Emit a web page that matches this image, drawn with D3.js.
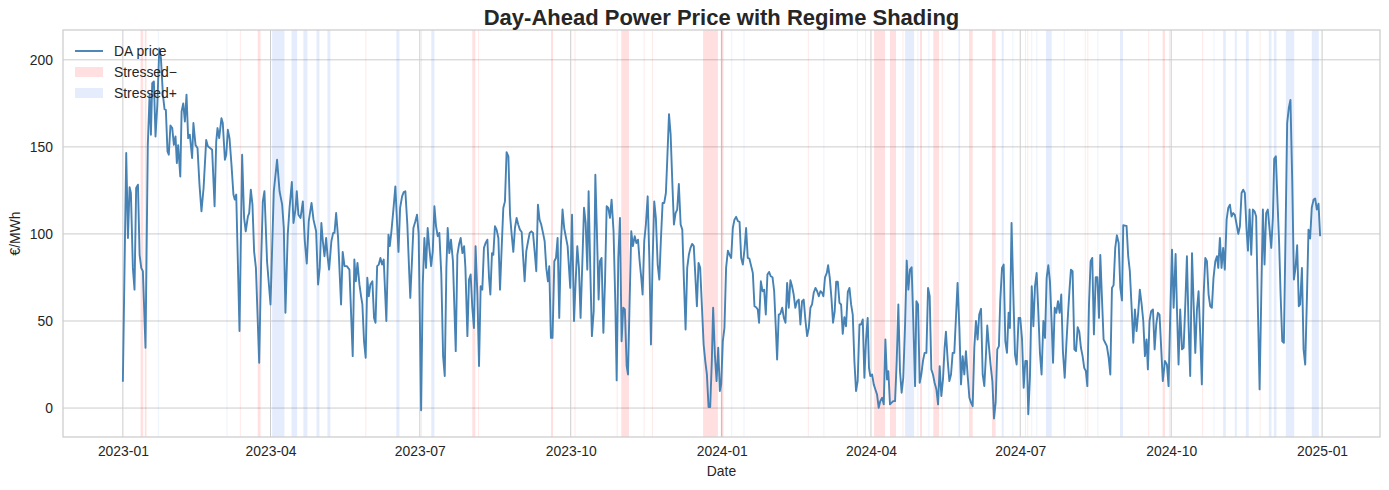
<!DOCTYPE html>
<html>
<head>
<meta charset="utf-8">
<script src="https://cdn.jsdelivr.net/npm/d3@7"></script>
<style>
  body { margin: 0; background: #fff; }
  svg { font-family: "Liberation Sans", Arial, sans-serif; }
</style>
</head>
<body>
<div id="chart"></div>
<script>
// day offsets count from 2023-01-01
const startDate = Date.UTC(2023, 0, 1);

// [day, €/MWh]
const priceSeries = [
  [0,15.1],[2.05,146.5],[3.1,97.7],[4.1,126.8],[4.9,123.5],[6.1,80.5],[7.1,68],[8.1,126.4],[9.2,128.3],[10.2,88],[11.2,80.5],[12.2,78.6],[13.8,34.6],[15.2,151],[16.3,180],[17.1,157],[17.9,186.6],[18.9,187.6],[19.9,156],[21,174],[22.2,206.5],[23.2,201],[24.4,180],[25.4,171.7],[26.2,171.3],[27.2,147.4],[28,145.5],[29,162.3],[30.1,160.8],[31.1,151.2],[32.1,156],[32.9,140.7],[33.7,151],[35,133],[35.8,170.4],[36.8,175],[37.8,164.6],[38.8,180],[39.8,155],[40.8,157],[42.2,143.6],[43,163.7],[44.3,151],[45.5,149.3],[46.7,128.3],[47.9,113],[49.2,126.4],[50.8,154],[51.8,150.3],[54.4,148.4],[55.9,115.9],[56.9,153],[57.7,160.8],[58.7,155],[60.1,166.5],[60.9,163.7],[62.2,142.6],[63,145.5],[64,159.8],[65,155],[66.2,139.8],[67.4,122.6],[68.2,119.7],[69.1,122.6],[71.1,44.2],[72.7,145.5],[73.9,109.2],[74.9,101.5],[76.2,110],[77,112],[78,125.4],[79,116.8],[80,90],[81.1,80.5],[83.1,26],[84.3,84.3],[85.3,118.7],[86.3,124.5],
  [87.9,84],[90,59.5],[92,124.5],[94,142.6],[95.5,124.5],[97.1,116.8],[98.1,103.4],[99.1,54.7],[100.5,99.6],[101.6,115],[103,129.8],[104,106.3],[105.2,114],[106,124.5],[107,111],[108.3,109.2],[109.7,118.7],[110.9,95.8],[112.1,83],[113.3,107.3],[115,117.8],[116.2,108.2],[117.8,101.5],[119,71],[120,80.5],[121,106.3],[121.9,95.8],[122.9,87.2],[123.9,97.7],[124.7,88],[125.7,79.5],[127.1,95.8],[128.2,100.6],[129,100.6],[130,112],[131.2,97.7],[132,80.5],[133,59.5],[134,89.7],[135.1,81.5],[136.5,81.5],[138.1,79.5],[140.1,29.8],[141.1,85.3],[142,72.8],[143,83.4],[144.2,71],[145.2,64.2],[146,59.5],[147,38.4],[148,28.9],[149,74.8],[149.9,64.2],[150.9,71],[152.1,72.8],[153.1,51.8],[154,49],[155,81.5],[156,82.4],[157,86.2],[158,82.4],[159,85.3],[160.6,50],[161.9,99.6],[162.7,93],[163.7,101.5],[164.9,114],[166.1,127.3],[167.1,107.3],[168,89.7],[169,115],[170.2,121.6],[171.2,124],[172.2,124.5],[173.4,105.4],[174.6,76.7],[175.2,63.3],[176.3,86.2],[177.1,103.4],[178.3,107.3],[179.3,111],[180.3,100],
  [181.8,-1.3],[182.8,71],[183.8,97.7],[184.8,80.5],[185.8,103.4],[186.8,92],[187.9,81.5],[188.9,90],[189.9,115.9],[190.9,104.4],[191.9,98.7],[192.9,100.6],[194.1,76.7],[195.2,29.8],[196.2,18.4],[197.2,80.5],[198,103.4],[199,89],[200,96.7],[201.2,84.3],[202.9,32.7],[203.9,88],[204.9,93.9],[205.9,97.7],[207,89],[208,93],[208.8,80.5],[210,41.3],[211,73.8],[212,76.7],[213,57.6],[214,46],[215,93],[216.1,65.2],[217.1,24.1],[218.1,70],[219.1,68],[220.1,92],[221.1,94.8],[222.2,96.7],[223.2,74.8],[224,65.2],[225,89],[225.8,88],[226.8,104.4],[227.8,102.5],[228.9,97.7],[229.9,68],[230.9,92],[231.9,114.9],[232.9,118.7],[233.9,147],[235,144.6],[236,111],[237,99.6],[238,89.7],[239,103.4],[240,109.2],[241,105.4],[242,102.5],[243.1,101.1],[243.9,88],[244.9,72.8],[245.9,90],[247,95.8],[248,100.6],[249,101.5],[250,100.6],[251,90],[252,78.6],[253,116.8],[254,108.2],[255,105.4],[256.1,100.6],[257.1,95.8],[258.1,80.5],[259.1,72.8],[259.9,81.5],[260.9,40.3],[261.9,40.3],[263,84.3],[264,86.2],[265,97.7],[266,51.8],[267,93.9],[268,114],[269,103.4],
  [271.1,93],[272.7,69],[273.8,111],[275,50],[276,72.8],[277,93],[278,80.5],[279,51.8],[280.1,84.3],[281.1,115],[282.1,106.3],[283.1,79.5],[283.9,124.5],[284.9,80.5],[285.9,41.3],[287,55.6],[288,134],[289,99.6],[290,62.3],[290.8,84.3],[291.8,86.2],[292.9,43.2],[293.9,72.8],[294.9,115.9],[295.9,115],[296.9,109.2],[297.9,119.7],[299.1,101.5],[300.2,59.5],[301,15.9],[302,86.2],[303,109.2],[304,38.4],[305,57.6],[306,56.6],[307.1,24.1],[307.9,19.3],[308.9,61.4],[309.9,101.5],[310.9,93],[312,98.7],[313,94.8],[314,96.7],[315,84.3],[316,74.8],[316.8,65.2],[317.8,95.8],[318.8,105.4],[319.9,121.6],[320.9,86.2],[321.9,36.5],[322.9,84.3],[323.9,118.7],[324.9,109.2],[326,82.4],[327,73.8],[328,97.7],[329,117.8],[330,117.8],[331,123.5],[331.8,141.7],[332.9,168.8],[333.9,157],[334.9,130.2],[335.9,105.4],[336.9,112],[337.9,114],[338.9,128.7],[340,105.4],[341,102.5],[342,72.8],[343,45.1],[344,80.5],[345,88],[346,92],[347,94.3],[348,93],[348.9,76.7],[349.9,58.5],[350.9,83.4],[351.9,80.5],[353,57.6],[354,36.5],[355,27],[356,19.3],[357,0.6],[358,0.6],[359,27],[359.8,57.6],[360.9,29.8],[361.9,15.5],[362.9,34.6],
  [363.9,9.8],[364.7,13.6],[365.7,38.4],[366.7,46],[367.7,80.5],[368.8,90.4],[369.8,88],[370.8,86.2],[371.8,103.4],[372.8,108.2],[373.8,109.8],[374.9,107.3],[375.9,106.9],[376.9,86.2],[377.9,82.4],[378.9,91],[379.9,103.4],[380.9,86.2],[381.9,85.8],[383,81.5],[384,77.6],[385,58.5],[386,57.9],[387,56.6],[387.8,49],[388.9,72.8],[389.9,67.1],[390.9,68],[391.9,53.7],[392.9,76.7],[393.9,78.2],[394.9,75.7],[396,75.1],[397,67.1],[398,46],[398.8,27.9],[399.8,53.7],[400.8,54.1],[401.9,57.6],[402.9,51.8],[403.9,49],[404.9,71.9],[405.9,57.6],[406.9,73.4],[407.9,70],[408.9,65.2],[409.9,57.6],[411,61.4],[412,62.3],[413,48],[414,61.4],[415,62.3],[416.1,50],[417.1,41.3],[418.1,46],[419.1,57.6],[420.1,59.5],[421.1,66.2],[422.2,69],[423.2,67.1],[424.2,64.2],[425.2,67.1],[426.2,66.2],[427,64.2],[428,75.1],[429.1,77.6],[429.9,82],[430.9,74.8],[431.9,63.3],[432.9,49],[433.9,55.6],[434.8,72.5],[435.8,72.5],[436.8,60.4],[437.8,59.5],[438.8,42.6],[439.8,52.2],[440.8,47],[441.9,66.7],[442.9,69],[443.9,59.5],[444.9,53.7],[445.9,27],[446.9,9.8],[447.9,15.5],[449,48],[450,48],[451,50.9],[452,17.4],[453,39.4],
  [454,51.8],[454.8,23.1],[455.6,18.4],[456.7,19.3],[457.7,13.6],[458.7,10.7],[459.7,7.8],[460.7,0.2],[461.7,4],[462.8,5.9],[463.8,2.1],[464.8,39.4],[465.8,16.4],[466.6,21.2],[467.6,2.1],[468.6,3.1],[469.7,4],[470.7,4],[471.7,27],[472.7,59.5],[473.7,21.2],[474.7,8.8],[475.7,17.4],[476.8,48],[477.8,84.7],[478.8,68],[479.8,79.5],[480.8,80.9],[481.8,50],[482.9,12.6],[483.7,61.4],[484.7,59.5],[485.7,14.5],[486.7,19.3],[487.7,27],[488.7,31.7],[489.8,31.7],[490.8,69],[491.8,64.2],[492.8,22.2],[493.8,19.3],[494.8,14.5],[495.9,10.7],[496.9,2.1],[497.9,24.1],[498.9,6.9],[499.9,16.4],[500.9,34.6],[501.7,43.8],[502.8,27],[503.8,15.5],[504.8,19.3],[505.8,31.7],[506.8,31.7],[507.8,51.8],[508.8,71.9],[509.9,46],[510.9,13.6],[511.9,29.8],[512.9,19.3],[513.9,32.7],[514.9,19.3],[516,5.9],[517,3.1],[518,1.1],[519,34.6],[520,50],[521,39.4],[522,53.7],[523.1,57],[524.1,19.3],[525.1,12.6],[526.1,30.8],[526.9,47.4],[527.9,35.6],[528.9,25],[530,15.5],[531,-6],[532,3.1],[533,33.7],[534,35.6],[534.8,61.4],[535.9,80.5],[536.9,82.4],[537.9,38.4],[538.9,31.7],[539.9,54.7],[540.7,46],[541.7,106.3],[542.8,65.2],[543.8,30.8],[544.8,25],
  [546,51.8],[547,51.8],[548.1,39.4],[549.1,11.7],[550.1,27],[551.1,27],[551.9,-3.6],[552.9,17.4],[554,70],[555,47],[556,70],[557,77.6],[558,55.6],[559,31.7],[560,19.3],[561.1,50],[562.1,40.3],[563.1,74.8],[564.1,82],[565.1,72.8],[566.1,50],[567,26],[568,57.6],[569,54.7],[570,61.4],[571,54.7],[572,65.2],[573,32.7],[574.1,17.4],[575.1,36.5],[576.1,53.7],[577.1,69],[577.9,79.5],[578.9,78.6],[580,33.7],[581,32.7],[582,46.5],[583,43.8],[584,34.6],[585,29.8],[586,23.1],[587,21.2],[587.9,12.6],[588.9,59.5],[589.9,84.3],[590.9,86.2],[591.9,42.3],[593,75.1],[594,75.1],[595,51.8],[595.8,88],[596.8,63.3],[597.8,39.4],[598.8,37.5],[599.8,35.6],[600.9,28.9],[601.9,19.3],[602.9,69],[603.9,70.6],[604.9,92],[605.9,99.2],[607,94.8],[608,69],[609,61.8],[609.8,105],[610.8,104.8],[611.8,104.6],[612.8,87.2],[613.8,78.6],[614.9,57.6],[615.9,37.5],[616.9,56.6],[617.9,44.2],[618.9,54.7],[619.9,68],[621,59.5],[622,50],[623,29.8],[624,39.4],[624.8,22.2],[625.8,50],[626.8,55.6],[627.9,56.6],[628.9,33.7],[629.9,48],[630.9,54.7],[631.9,53.7],[632.9,34.6],[633.9,15.5],
  [635.2,27],[636.4,25],[637.4,12.6],[638.4,51.8],[639.5,91],[640.5,57.6],[641.7,88.5],[642.5,57.6],[643.5,25],[644.5,56.6],[645.6,33.7],[646.6,34.6],[647.6,59.5],[648.6,87.2],[649.6,48],[650.6,18.4],[651.7,89],[652.7,59.5],[653.7,31.7],[654.7,56.6],[655.7,67.1],[656.7,42.3],[657.7,13.6],[658.8,65.2],[659.8,86.2],[660.8,84.3],[661.8,65.2],[662.8,58.5],[663.8,57.6],[664.8,74.8],[665.9,84.3],[666.9,87.2],[667.7,80.5],[668.7,97.7],[669.7,80.5],[670.7,92],[671.7,79.5],[672.8,108.2],[673.8,115],[674.8,116.8],[675.8,110],[676.8,112],[677.8,111],[678.9,105.4],[679.9,100],[680.9,104.4],[681.9,123.5],[682.9,125.4],[683.9,123.5],[684.9,103.4],[685.8,90.4],[686.8,114],[687.8,88],[688.8,114],[689.8,113],[690.8,110],[691.9,55.6],[692.9,10.7],[693.9,63.3],[694.9,114],[695.9,82.4],[696.9,112],[697.9,114],[699,102.5],[700,92],[701,109.2],[701.8,143.2],[702.8,144.6],[703.8,118.7],[704.8,94.8],[705.7,65.2],[706.7,38.4],[707.7,37.5],[708.7,99.6],[709.7,163.7],[710.7,172.3],[711.7,177],[712.8,130.2],[713.8,73.8],[714.8,80.5],[715.8,93.5],[716.8,58.5],[717.6,59.5],[718.7,80.5],[719.7,33.7],[720.7,25],[721.7,61.4],[722.7,102.5],[723.7,97.3],[724.7,115],[725.8,119.7],[726.8,120.3],[727.8,114],[728.8,117.4],[729.8,98.7]
];

// regime spans [startDay, endDay]; equal ends = single-day sliver
const stressedMinus = [
  [10.8,12.4],[13.4,14.4],[71.3,71.3],[82.2,83.9],[147.8,147.8],[181.8,181.8],[213,214.8],[216.5,216.5],
  [261,262.2],[275.3,275.3],[301,301],[303.8,308.5],[317.4,317.4],[322.5,322.5],[353.7,362.7],[364.5,366.1],
  [417.5,417.5],[447.4,447.4],[452.4,452.4],[457.9,464.6],[467.6,471.3],[475.2,475.2],[485.9,487.1],[494,497.5],
  [499.1,499.1],[515.8,518],[529.8,532],[549.9,549.9],[551.3,551.3],[586.3,586.3],[587.9,587.9],[625,625],
  [633.8,635.2],[637.6,637.6],[657.9,657.9],[692.9,692.9]
];
const stressedPlus = [
  [21.3,21.3],[63.2,63.2],[91,98.5],[102.8,106.2],[110,112.5],[118,119.8],[124.7,126.5],[166.7,168.6],
  [188,189.9],[370.8,370.8],[378.3,378.3],[427,427],[476.8,482.3],[484.3,484.3],[491,491],[509.3,510.3],
  [535.7,536.9],[542.2,542.2],[553.7,553.7],[556.8,556.8],[562.7,566.2],[573.5,573.5],[594,594],[607.8,609.6],
  [664.8,664.8],[670.7,672.3],[677.8,679],[684.5,686.3],[698.5,700.2],[701.6,703.2],[708.9,714],[724.7,729]
];

const xTicks = ["2023-01-01","2023-04-01","2023-07-01","2023-10-01","2024-01-01","2024-04-01","2024-07-01","2024-10-01","2025-01-01"];
const yTicks = [0, 50, 100, 150, 200];
const legendLabels = ["DA price", "Stressed\u2212", "Stressed+"];

const width = 1389, height = 490;
const margin = { top: 30, right: 9, bottom: 53, left: 63 };
const innerW = width - margin.left - margin.right;
const innerH = height - margin.top - margin.bottom;

const lineColor = "#4682b4";
const minusColor = "#fc0000";
const plusColor = "#2f6ef0";
const gridColor = "#cccccc";
const textColor = "#262626";

const dayToDate = (d) => new Date(startDate + d * 864e5);

// matplotlib-style 5% margins
const [d0, d1] = d3.extent(priceSeries, (p) => p[0]);
const [v0, v1] = d3.extent(priceSeries, (p) => p[1]);
const dPad = (d1 - d0) * 0.05, vPad = (v1 - v0) * 0.05;

const x = d3.scaleUtc()
  .domain([dayToDate(d0 - dPad), dayToDate(d1 + dPad)])
  .range([0, innerW]);
const y = d3.scaleLinear()
  .domain([v0 - vPad, v1 + vPad])
  .range([innerH, 0]);

const svg = d3.select("#chart").append("svg")
  .attr("width", width)
  .attr("height", height);

const g = svg.append("g")
  .attr("transform", `translate(${margin.left},${margin.top})`);

// grid
const xTickDates = xTicks.map((s) => new Date(s + "T00:00:00Z"));
g.append("g")
  .selectAll("line")
  .data(xTickDates)
  .join("line")
  .attr("x1", (d) => x(d)).attr("x2", (d) => x(d))
  .attr("y1", 0).attr("y2", innerH)
  .attr("stroke", gridColor).attr("stroke-width", 1);

g.append("g")
  .selectAll("line")
  .data(yTicks)
  .join("line")
  .attr("x1", 0).attr("x2", innerW)
  .attr("y1", (d) => y(d)).attr("y2", (d) => y(d))
  .attr("stroke", gridColor).attr("stroke-width", 1);

// regime shading
function drawSpans(spans, color) {
  g.append("g")
    .selectAll("rect")
    .data(spans)
    .join("rect")
    .attr("x", (d) => x(dayToDate(d[0])))
    .attr("width", (d) => Math.max(x(dayToDate(d[1])) - x(dayToDate(d[0])), 1))
    .attr("y", 0)
    .attr("height", innerH)
    .attr("fill", color)
    .attr("fill-opacity", (d) => (d[1] - d[0] < 0.1 ? 0.09 : 0.125));
}
drawSpans(stressedMinus, minusColor);
drawSpans(stressedPlus, plusColor);

// price line
const line = d3.line()
  .x((d) => x(dayToDate(d[0])))
  .y((d) => y(d[1]));

g.append("path")
  .datum(priceSeries)
  .attr("fill", "none")
  .attr("stroke", lineColor)
  .attr("stroke-width", 1.9)
  .attr("stroke-linejoin", "round")
  .attr("d", line);

// spines
g.append("rect")
  .attr("x", 0).attr("y", 0)
  .attr("width", innerW).attr("height", innerH)
  .attr("fill", "none")
  .attr("stroke", gridColor)
  .attr("stroke-width", 1.25);

// axes labels
const fmt = d3.utcFormat("%Y-%m");
const xAxis = g.append("g")
  .attr("transform", `translate(0,${innerH})`)
  .call(d3.axisBottom(x).tickValues(xTickDates).tickFormat(fmt).tickSize(0).tickPadding(9));
const yAxis = g.append("g")
  .call(d3.axisLeft(y).tickValues(yTicks).tickFormat(d3.format("d")).tickSize(0).tickPadding(10));

[xAxis, yAxis].forEach((ax) => {
  ax.select(".domain").remove();
  ax.selectAll("text")
    .attr("fill", textColor)
    .style("font-size", "13.9px")
    .style("font-family", "'Liberation Sans', Arial, sans-serif");
});

svg.append("text")
  .attr("x", margin.left + innerW / 2)
  .attr("y", 476)
  .attr("text-anchor", "middle")
  .attr("fill", textColor)
  .style("font-size", "13.9px")
  .text("Date");

svg.append("text")
  .attr("transform", `translate(20,${margin.top + innerH / 2}) rotate(-90)`)
  .attr("text-anchor", "middle")
  .attr("fill", textColor)
  .style("font-size", "13.9px")
  .text("€/MWh");

svg.append("text")
  .attr("x", margin.left + innerW / 2)
  .attr("y", 25)
  .attr("text-anchor", "middle")
  .attr("fill", textColor)
  .style("font-size", "22px")
  .style("font-weight", "bold")
  .text("Day-Ahead Power Price with Regime Shading");

// legend
const legend = svg.append("g").attr("transform", "translate(75,51)");
const rowH = 21;
legend.append("line")
  .attr("x1", 0).attr("x2", 28).attr("y1", 0).attr("y2", 0)
  .attr("stroke", lineColor).attr("stroke-width", 1.9);
[minusColor, plusColor].forEach((c, i) => {
  legend.append("rect")
    .attr("x", 0).attr("y", rowH * (i + 1) - 5)
    .attr("width", 28).attr("height", 10)
    .attr("fill", c).attr("fill-opacity", 0.125);
});
legend.selectAll("text.lab")
  .data(legendLabels)
  .join("text")
  .attr("class", "lab")
  .attr("x", 39)
  .attr("y", (d, i) => i * rowH + 5)
  .attr("fill", textColor)
  .style("font-size", "13.9px")
  .text((d) => d);
</script>
</body>
</html>
